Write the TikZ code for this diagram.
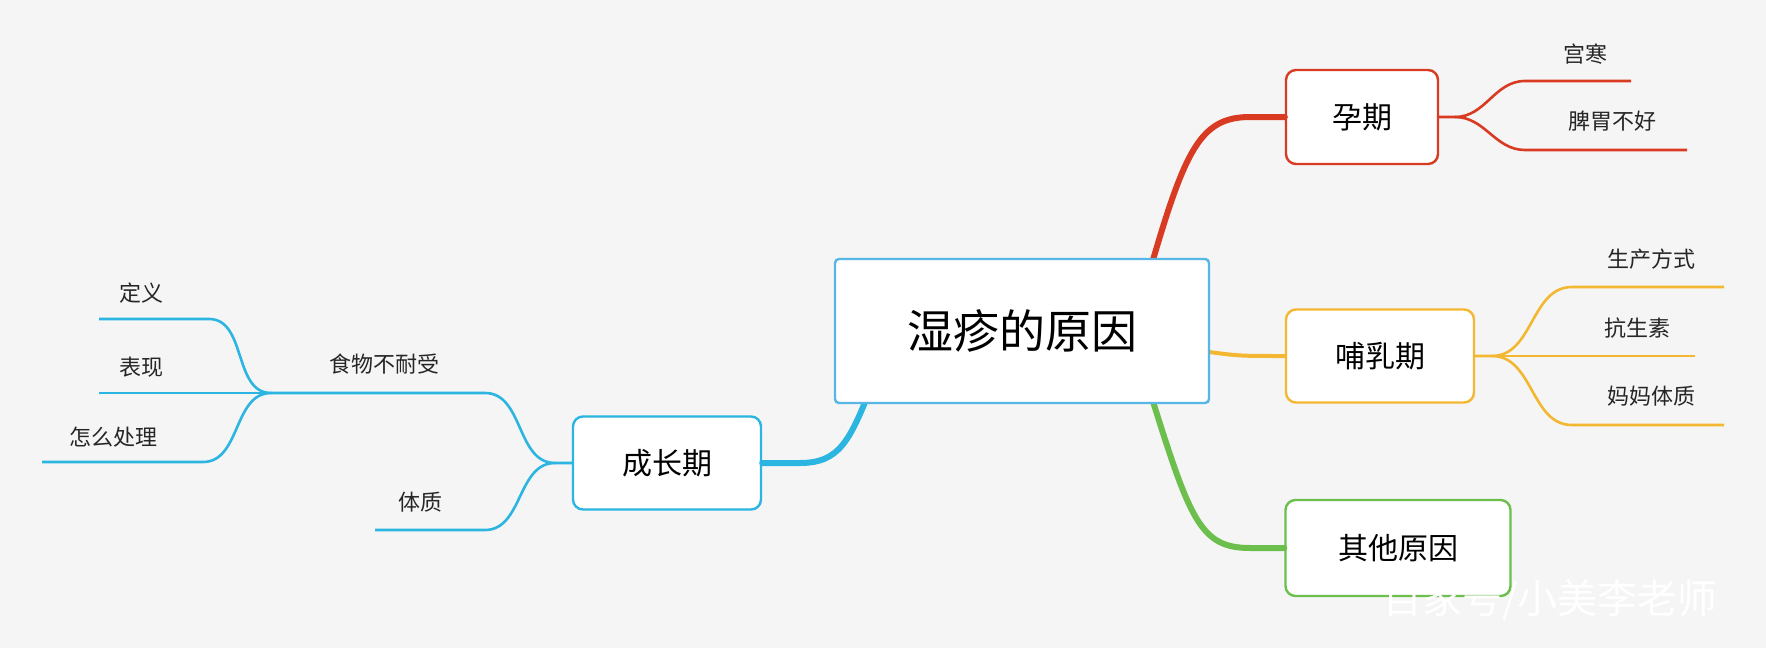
\documentclass[tikz,border=0pt]{standalone}
\usepackage{fontspec}
\setmainfont{Noto Sans CJK SC}
\definecolor{bg}{HTML}{F5F5F5}
\definecolor{cred}{HTML}{D93A22}
\definecolor{cora}{HTML}{F4B731}
\definecolor{cgrn}{HTML}{6CBF4C}
\definecolor{cblu}{HTML}{2BB5E0}
\definecolor{ccen}{HTML}{56B6E6}
\begin{document}
\begin{tikzpicture}[x=1pt,y=-1pt,
  box/.style={draw,line width=2.4pt,rounded corners=10pt,fill=white,font=\fontsize{30}{32}\selectfont,inner sep=0pt},
  leaf/.style={font=\fontsize{22}{26}\selectfont,text=black!85,inner sep=0pt},
  thin/.style={line width=2.6pt},
  thick/.style={line width=6pt,line cap=round}]
\fill[bg] (0,0) rectangle (1766,648);
\useasboundingbox (0,0) rectangle (1766,648);
% main branches
\coordinate (cr) at (1150,270);
\coordinate (co) at (1209,352);
\coordinate (cg) at (1150,392);
\coordinate (cb) at (872,385);
\node[box,draw=cred,minimum width=152pt,minimum height=94pt] (p) at (1362,117) {孕期};
\node[box,draw=cora,minimum width=188pt,minimum height=93pt] (b) at (1380,356) {哺乳期};
\node[box,draw=cgrn,minimum width=225pt,minimum height=96pt] (o) at (1398,548) {其他原因};
\node[box,draw=cblu,minimum width=188pt,minimum height=93pt] (g) at (667,463) {成长期};
\draw[thick,cred] (cr) .. controls (1185,150) and (1200,117) .. (1250,117) -- (p.west);
\draw[thick,cora,line width=4pt] (co) .. controls (1240,356) .. (p.west |- b.west) -- (b.west);
\draw[thick,cgrn] (cg) .. controls (1190,520) and (1200,548) .. (1250,548) -- (o.west);
\draw[thick,cblu] (cb) .. controls (850,440) and (840,463) .. (800,463) -- (g.east);
\node[draw=ccen,line width=2.4pt,rounded corners=4pt,fill=white,minimum width=374pt,minimum height=144pt,inner sep=0pt,font=\fontsize{46}{50}\selectfont] (c) at (1022,331) {湿疹的原因};
% 孕期 leaves
\coordinate (pf) at (1455,117);
\coordinate (p1) at (1525,81); \coordinate (p1e) at (1631,81);
\coordinate (p2) at (1525,150); \coordinate (p2e) at (1687,150);
\draw[thin,cred] (p.east) -- (pf) to[out=0,in=180] (p1) -- (p1e);
\draw[thin,cred] (pf) to[out=0,in=180] (p2) -- (p2e);
\node[leaf] (t1) at (1585,54) {宫寒};
\node[leaf] (t2) at (1612,121) {脾胃不好};
% 哺乳期 leaves
\coordinate (bf) at (1492,356);
\coordinate (b1) at (1572,287); \coordinate (b1e) at (1724,287);
\coordinate (b2e) at (1695,356);
\coordinate (b3) at (1572,425); \coordinate (b3e) at (1724,425);
\draw[thin,cora] (b.east) -- (bf) to[out=0,in=180] (b1) -- (b1e);
\draw[thin,cora] (bf) -- (b2e);
\draw[thin,cora] (bf) to[out=0,in=180] (b3) -- (b3e);
\node[leaf] (t3) at (1651,259) {生产方式};
\node[leaf] (t4) at (1637,328) {抗生素};
\node[leaf] (t5) at (1651,396) {妈妈体质};
% 成长期 leaves
\coordinate (gf) at (555,463);
\coordinate (g1) at (485,393); \coordinate (g1e) at (271,393);
\coordinate (g2) at (485,530); \coordinate (g2e) at (375,530);
\draw[thin,cblu] (g.west) -- (gf) to[out=180,in=0] (g1) -- (g1e);
\draw[thin,cblu] (gf) to[out=180,in=0] (g2) -- (g2e);
\node[leaf] (t6) at (384,364) {食物不耐受};
\node[leaf] (t7) at (420,502) {体质};
\coordinate (ff) at (271,393);
\coordinate (f1) at (209,319); \coordinate (f1e) at (99,319);
\coordinate (f2e) at (99,393);
\coordinate (f3) at (203,462); \coordinate (f3e) at (42,462);
\draw[thin,cblu] (ff) to[out=180,in=0] (f1) -- (f1e);
\draw[thin,cblu] (ff) -- (f2e);
\draw[thin,cblu] (ff) to[out=180,in=0] (f3) -- (f3e);
\node[leaf] (t8) at (141,293) {定义};
\node[leaf] (t9) at (141,367) {表现};
\node[leaf] (t10) at (113,437) {怎么处理};
% watermark
\node[font=\fontsize{40}{42}\selectfont,text=white,inner sep=0pt] (wm) at (1550,600) {百家号/小美李老师};
\end{tikzpicture}
\end{document}
